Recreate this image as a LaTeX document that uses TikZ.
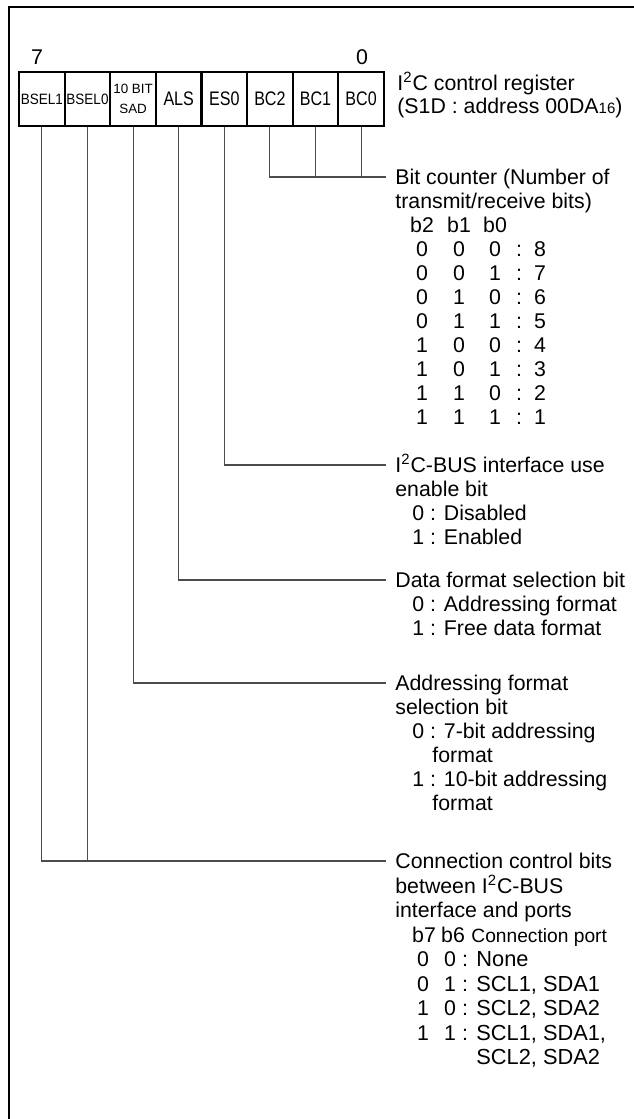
\documentclass[tikz,border=0pt]{standalone}
\usepackage{fontspec}
\setmainfont{Liberation Sans}
\newcommand\narrowtxt[1]{\scalebox{0.82}[1]{#1}}
\newcommand\bselbox[1]{\scalebox{0.9}[1]{#1}}
\begin{document}
\begin{tikzpicture}[x=0.5pt,y=-0.5pt,
  txt/.style={anchor=base west,inner sep=0pt,font=\fontsize{10.65}{12}\selectfont},
  ctr/.style={anchor=base,inner sep=0pt,font=\fontsize{10.65}{12}\selectfont},
  val/.style={anchor=base west,inner sep=0pt,font=\fontsize{10.9}{12}\selectfont},
  cellbox/.style={draw,line width=1.1pt,minimum width=22.8pt,minimum height=27pt,inner sep=0pt,anchor=north west},
  smallcell/.style={cellbox,font=\fontsize{7.5}{8}\selectfont},
  bigcell/.style={cellbox,font=\fontsize{9.8}{10}\selectfont},
  lead/.style={line width=0.55pt,black!70},
  frame/.style={line width=1.25pt}]
\useasboundingbox (0,0) rectangle (633,1119);
\draw[frame] (9,1130) -- (9,7) -- (645,7);

% bit numbers
\node[ctr] (n7) at (37,64) {7};
\node[ctr] (n0) at (362,64) {0};

% register cells
\node[smallcell] (bs1) at (18,71) {\bselbox{BSEL1}};
\node[smallcell] (bs0) at (63.6,71) {\bselbox{BSEL0}};
\node[cellbox,align=center,font=\fontsize{6.7}{10}\selectfont] (sad) at (109.2,71) {10 BIT\\SAD};
\node[bigcell] (als) at (154.8,71) {\narrowtxt{ALS}};
\node[bigcell] (es) at (200.4,71) {\narrowtxt{ES0}};
\node[bigcell] (bc2) at (246,71) {\narrowtxt{BC2}};
\node[bigcell] (bc1) at (291.6,71) {\narrowtxt{BC1}};
\node[bigcell] (bc0) at (337.2,71) {\narrowtxt{BC0}};

% title
\node[txt] (t1) at (397,90.5) {I\textsuperscript{2}C control register};
\node[txt] (t2) at (397,113.5) {(S1D : address 00DA{\fontsize{7.5}{8}\selectfont 16})};

% leader end points
\coordinate (bcE) at (386,177);
\coordinate (esE) at (386,465);
\coordinate (alsE) at (386,580);
\coordinate (sadE) at (386,683);
\coordinate (bsE) at (386,861);

\draw[lead] (bc2.south) |- (bcE);
\draw[lead] (bc1.south) -- (bc1.south |- bcE);
\draw[lead] (bc0.south) -- (bc0.south |- bcE);
\draw[lead] (es.south) |- (esE);
\draw[lead] (als.south) |- (alsE);
\draw[lead] (sad.south) |- (sadE);
\draw[lead] (bs1.south) |- (bsE);
\draw[lead] (bs0.south) -- (bs0.south |- bsE);

% bit counter
\node[txt] (bcT1) at (395,184.5) {Bit counter (Number of};
\node[txt] (bcT2) at (395,208.5) {transmit/receive bits)};
\node[ctr] (bch2) at (422,232.5) {b2};
\node[ctr] (bch1) at (459,232.5) {b1};
\node[ctr] (bch0) at (495,232.5) {b0};
\foreach \a/\b/\c/\v [count=\i from 0] in {0/0/0/8,0/0/1/7,0/1/0/6,0/1/1/5,1/0/0/4,1/0/1/3,1/1/0/2,1/1/1/1}{
  \pgfmathsetmacro\yy{256.5+24*\i}
  \node[ctr] (bcr\i a) at (422,\yy) {\a};
  \node[ctr] (bcr\i b) at (459,\yy) {\b};
  \node[ctr] (bcr\i c) at (495,\yy) {\c};
  \node[ctr] (bcr\i d) at (519,\yy) {:};
  \node[ctr] (bcr\i e) at (540,\yy) {\v};
}

% I2C-BUS enable
\node[txt] (esT1) at (395,472.5) {I\textsuperscript{2}C-BUS interface use};
\node[txt] (esT2) at (395,496.5) {enable bit};
\node[txt] (esT3) at (412,520.5) {0 : Disabled};
\node[txt] (esT4) at (412,544.5) {1 : Enabled};

% data format
\node[txt] (alsT1) at (395,587.5) {Data format selection bit};
\node[txt] (alsT2) at (412,611.5) {0 : Addressing format};
\node[txt] (alsT3) at (412,635.5) {1 : Free data format};

% addressing format
\node[txt] (sadT1) at (395,690.5) {Addressing format};
\node[txt] (sadT2) at (395,714.5) {selection bit};
\node[txt] (sadT3) at (412,738.5) {0 : 7-bit addressing};
\node[txt] (sadT4) at (432,762.5) {format};
\node[txt] (sadT5) at (412,786.5) {1 : 10-bit addressing};
\node[txt] (sadT6) at (432,810.5) {format};

% connection control
\node[txt] (bsT1) at (395,868.5) {Connection control bits};
\node[txt] (bsT2) at (395,893) {between I\textsuperscript{2}C-BUS};
\node[txt] (bsT3) at (395,917.5) {interface and ports};
\node[ctr] (bsh7) at (424,942) {b7};
\node[ctr] (bsh6) at (453,942) {b6};
\node[txt,font=\fontsize{9.6}{12}\selectfont] (bshp) at (471,942) {Connection port};
\foreach \a/\b/\v [count=\i from 0] in {0/0/None,0/1/{SCL1, SDA1},1/0/{SCL2, SDA2},1/1/{SCL1, SDA1,}}{
  \pgfmathsetmacro\yy{966.5+24.5*\i}
  \node[ctr] (bsr\i a) at (423,\yy) {\a};
  \node[ctr] (bsr\i b) at (450,\yy) {\b};
  \node[ctr] (bsr\i c) at (465,\yy) {:};
  \node[val] (bsr\i d) at (476,\yy) {\v};
}
\node[val] (bsr4d) at (476,1064.5) {SCL2, SDA2};
\end{tikzpicture}
\end{document}
